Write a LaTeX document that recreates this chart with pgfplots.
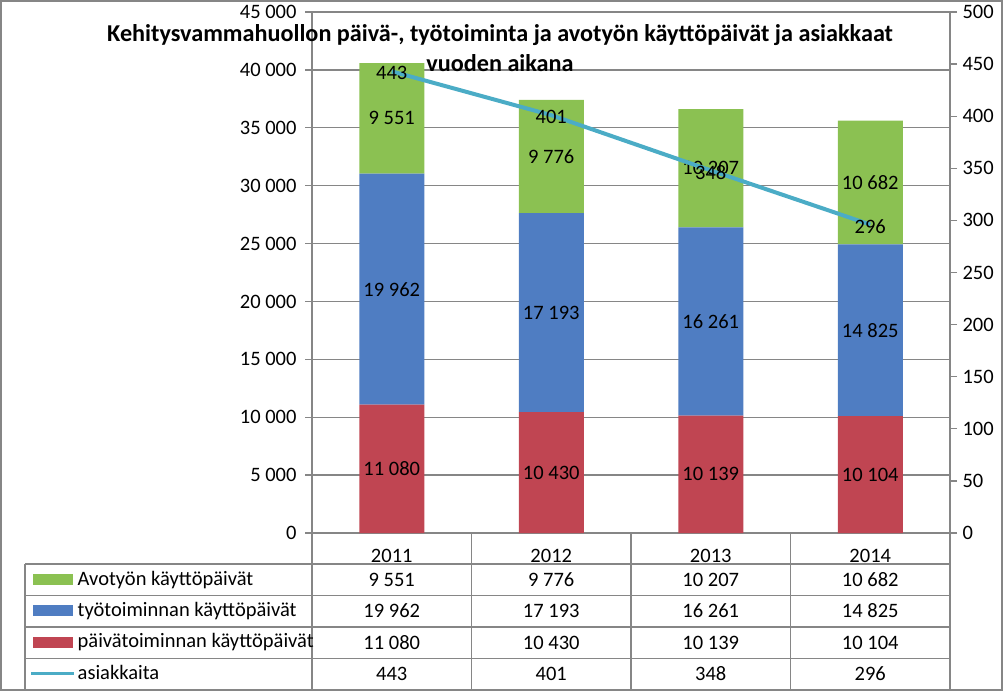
\documentclass[border=0pt]{standalone}
\usepackage{fontspec}
\setmainfont{Carlito}
\usepackage{pgfplots}
\pgfplotsset{compat=1.18}

\definecolor{avo}{RGB}{139,193,82}
\definecolor{tyo}{RGB}{79,125,194}
\definecolor{paiva}{RGB}{192,69,82}
\definecolor{asi}{RGB}{75,172,198}
\definecolor{rule}{RGB}{134,134,134}
\newcommand\fs{\fontsize{20.5}{24}\selectfont}

\pgfplotsset{
  avo legend/.style={legend image code/.code={\fill[avo] (0pt,-4.5pt) rectangle (39pt,5.5pt);}},
  tyo legend/.style={legend image code/.code={\fill[tyo] (0pt,-4.5pt) rectangle (39pt,5.5pt);}},
  paiva legend/.style={legend image code/.code={\fill[paiva] (0pt,-4.5pt) rectangle (39pt,5.5pt);}},
  asi legend/.style={legend image code/.code={\draw[asi,line width=3pt] (-2pt,0.5pt) -- (41pt,0.5pt);}},
  frame/.style={
    at={(312pt,158pt)}, anchor=south west,
    scale only axis, width=638pt, height=521pt,
    xmin=-0.5, xmax=3.5,
    axis line style={draw=rule, line width=1.3pt, -},
    tick align=outside, major tick length=7pt,
    y tick style={draw=rule, line width=1.3pt},
    tick label style={font=\fs},
    /pgf/number format/1000 sep={~},
    /pgf/number format/assume math mode=true,
  },
}

\begin{document}
\begin{tikzpicture}
\path[use as bounding box] (0pt,0pt) rectangle (1003pt,691pt);

% data table grid
\begin{scope}[draw=rule, line width=1.3pt]
  \foreach \yy in {127,95.5,64,32.5} \draw (25pt,\yy pt) -- (950pt,\yy pt);
  \draw (25pt,127pt) -- (25pt,2pt);
  \foreach \xx in {312,471.5,631,790.5,950} \draw (\xx pt,158pt) -- (\xx pt,2pt);
\end{scope}

\begin{axis}[frame,
  ybar stacked, bar width=65pt,
  ymin=0, ymax=45000, ytick distance=5000, scaled y ticks=false,
  xtick={0,1,2,3}, xticklabels={2011,2012,2013,2014},
  xticklabel style={anchor=center, yshift=-15.5pt},
  major x tick style={draw=none},
  axis y line*=left, axis x line*=bottom,
  yticklabel style={xshift=-5pt},
  ymajorgrids, grid style={draw=rule, line width=1.3pt},
  nodes near coords,
  every node near coord/.append style={font=\fs, anchor=center},
  legend cell align=left,
  legend style={at={(-0.44984,-0.0595)}, anchor=north west,
    draw=none, fill=none, inner xsep=4.5pt, inner ysep=0pt,
    row sep=0pt, column sep=2pt, font=\fs,
    nodes={inner sep=0pt, text height=21pt, text depth=10.3pt}},
]
\addlegendimage{avo legend}\addlegendentry{Avotyön käyttöpäivät}
\addlegendimage{tyo legend}\addlegendentry{työtoiminnan käyttöpäivät}
\addlegendimage{paiva legend}\addlegendentry{päivätoiminnan käyttöpäivät}
\addlegendimage{asi legend}\addlegendentry{asiakkaita}

\addplot[fill=paiva, draw=none] coordinates {(0,11080) (1,10430) (2,10139) (3,10104)};
\addplot[fill=tyo, draw=none] coordinates {(0,19962) (1,17193) (2,16261) (3,14825)};
\addplot[fill=avo, draw=none] coordinates {(0,9551) (1,9776) (2,10207) (3,10682)};
\end{axis}

\begin{axis}[frame,
  ymin=0, ymax=500, ytick distance=50,
  axis x line=none, axis y line*=right,
  yticklabel style={xshift=2pt},
]
\addplot[asi, line width=4pt, mark=none, nodes near coords,
  every node near coord/.append style={font=\fs, anchor=center, yshift=-2pt, text=black}]
  coordinates {(0,443) (1,401) (2,348) (3,296)};
\end{axis}

% table values
\begin{scope}[every node/.style={font=\fs, anchor=center}]
  \node at (391.75pt,111pt) {9~551};  \node at (551.25pt,111pt) {9~776};
  \node at (710.75pt,111pt) {10~207}; \node at (870.25pt,111pt) {10~682};
  \node at (391.75pt,80pt) {19~962};  \node at (551.25pt,80pt) {17~193};
  \node at (710.75pt,80pt) {16~261};  \node at (870.25pt,80pt) {14~825};
  \node at (391.75pt,48.5pt) {11~080}; \node at (551.25pt,48.5pt) {10~430};
  \node at (710.75pt,48.5pt) {10~139}; \node at (870.25pt,48.5pt) {10~104};
  \node at (391.75pt,17.5pt) {443}; \node at (551.25pt,17.5pt) {401};
  \node at (710.75pt,17.5pt) {348}; \node at (870.25pt,17.5pt) {296};
\end{scope}

\node[font=\bfseries\fontsize{24.2}{30}\selectfont, align=center] at (500pt,643pt)
  {Kehitysvammahuollon päivä-, työtoiminta ja avotyön käyttöpäivät ja asiakkaat\\vuoden aikana};

\draw[rule, line width=2pt] (1pt,1pt) rectangle (1002pt,690pt);
\end{tikzpicture}
\end{document}
